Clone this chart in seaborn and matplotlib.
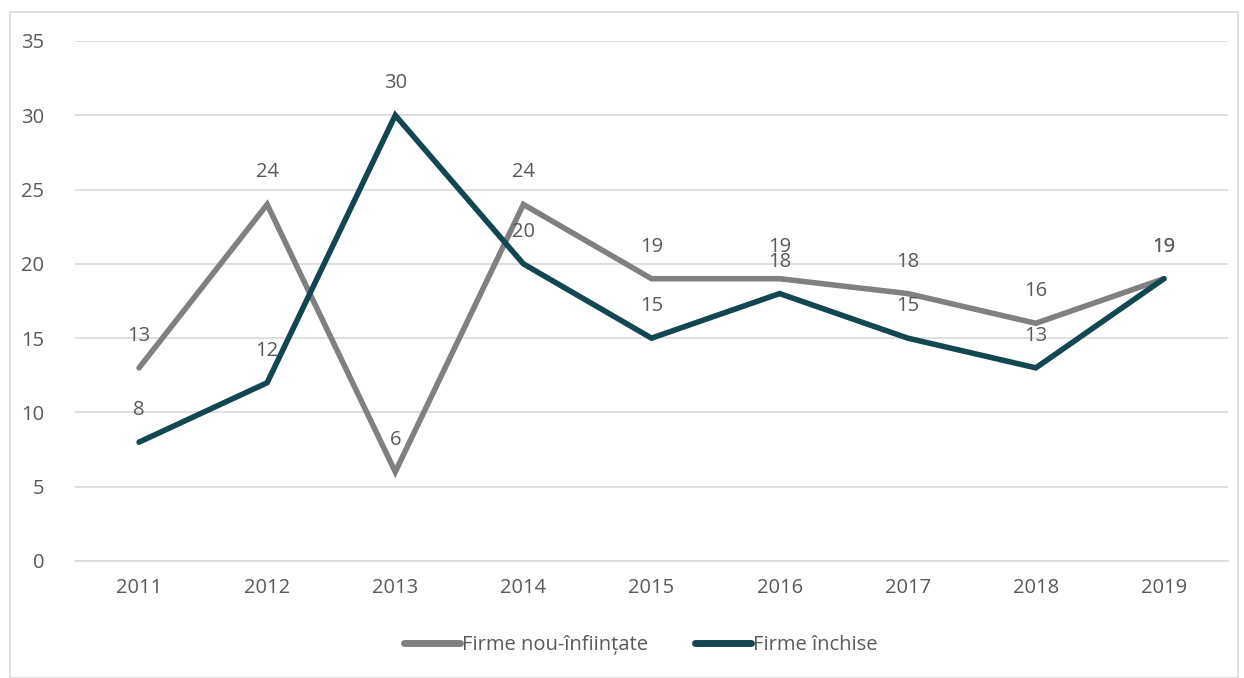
import matplotlib

matplotlib.use("Agg")
import matplotlib.pyplot as plt
import pandas as pd
import seaborn as sns
from matplotlib.patches import Rectangle

years = ["2011", "2012", "2013", "2014", "2015", "2016", "2017", "2018", "2019"]
new_firms = [13, 24, 6, 24, 19, 19, 18, 16, 19]
closed_firms = [8, 12, 30, 20, 15, 18, 15, 13, 19]
series_names = ["Firme nou-înființate", "Firme închise"]
colors = ["#808080", "#124752"]

df = pd.DataFrame({"An": years * 2,
                   "Valoare": new_firms + closed_firms,
                   "Serie": [series_names[0]] * len(years) + [series_names[1]] * len(years)})

sns.set_style("white")
plt.rcParams["font.family"] = ["Open Sans", "DejaVu Sans"]
text_color = "#595959"

fig = plt.figure(figsize=(12.44, 6.78), dpi=100)
ax = fig.add_axes([75 / 1244, 1 - 561 / 678, 1153 / 1244, 520 / 678])

sns.lineplot(data=df, x="An", y="Valoare", hue="Serie", palette=colors, linewidth=4,
             sort=False, ax=ax, legend=False)
for line in ax.lines:
    line.set_solid_capstyle("round")
    line.set_solid_joinstyle("miter")

for vals, col in zip([new_firms, closed_firms], colors):
    for i, v in enumerate(vals):
        ax.annotate(str(v), (i, v), xytext=(0, 23), textcoords="offset points",
                    ha="center", va="center", fontsize=14.5, color=text_color)

ax.set_xlim(-0.5, len(years) - 0.5)
ax.set_ylim(0, 35)
ax.set_yticks(range(0, 36, 5))
ax.yaxis.grid(True, color="#d9d9d9", linewidth=1.2)
ax.set_axisbelow(True)
for s in ["top", "right", "left"]:
    ax.spines[s].set_visible(False)
ax.spines["bottom"].set_color("#d9d9d9")
ax.spines["bottom"].set_linewidth(1.2)
ax.tick_params(axis="both", length=0, labelsize=14.5, labelcolor=text_color)
ax.tick_params(axis="y", pad=22)
ax.tick_params(axis="x", pad=12)
ax.set_xlabel("")
ax.set_ylabel("")

handles = [plt.Line2D([0], [0], color=c, linewidth=5, solid_capstyle="round") for c in colors]
fig.legend(handles, series_names, loc="center", bbox_to_anchor=(0.515, 1 - 645 / 678),
           ncol=2, frameon=False, fontsize=14.5, labelcolor=text_color,
           handlelength=2.8, handletextpad=0.1, columnspacing=2.3)

fig.patches.append(Rectangle((10 / 1244, 0), 1228 / 1244, 1 - 12 / 678,
                             transform=fig.transFigure, fill=False,
                             edgecolor="#d9d9d9", linewidth=1.2))

fig.savefig("out.png", dpi=100)
